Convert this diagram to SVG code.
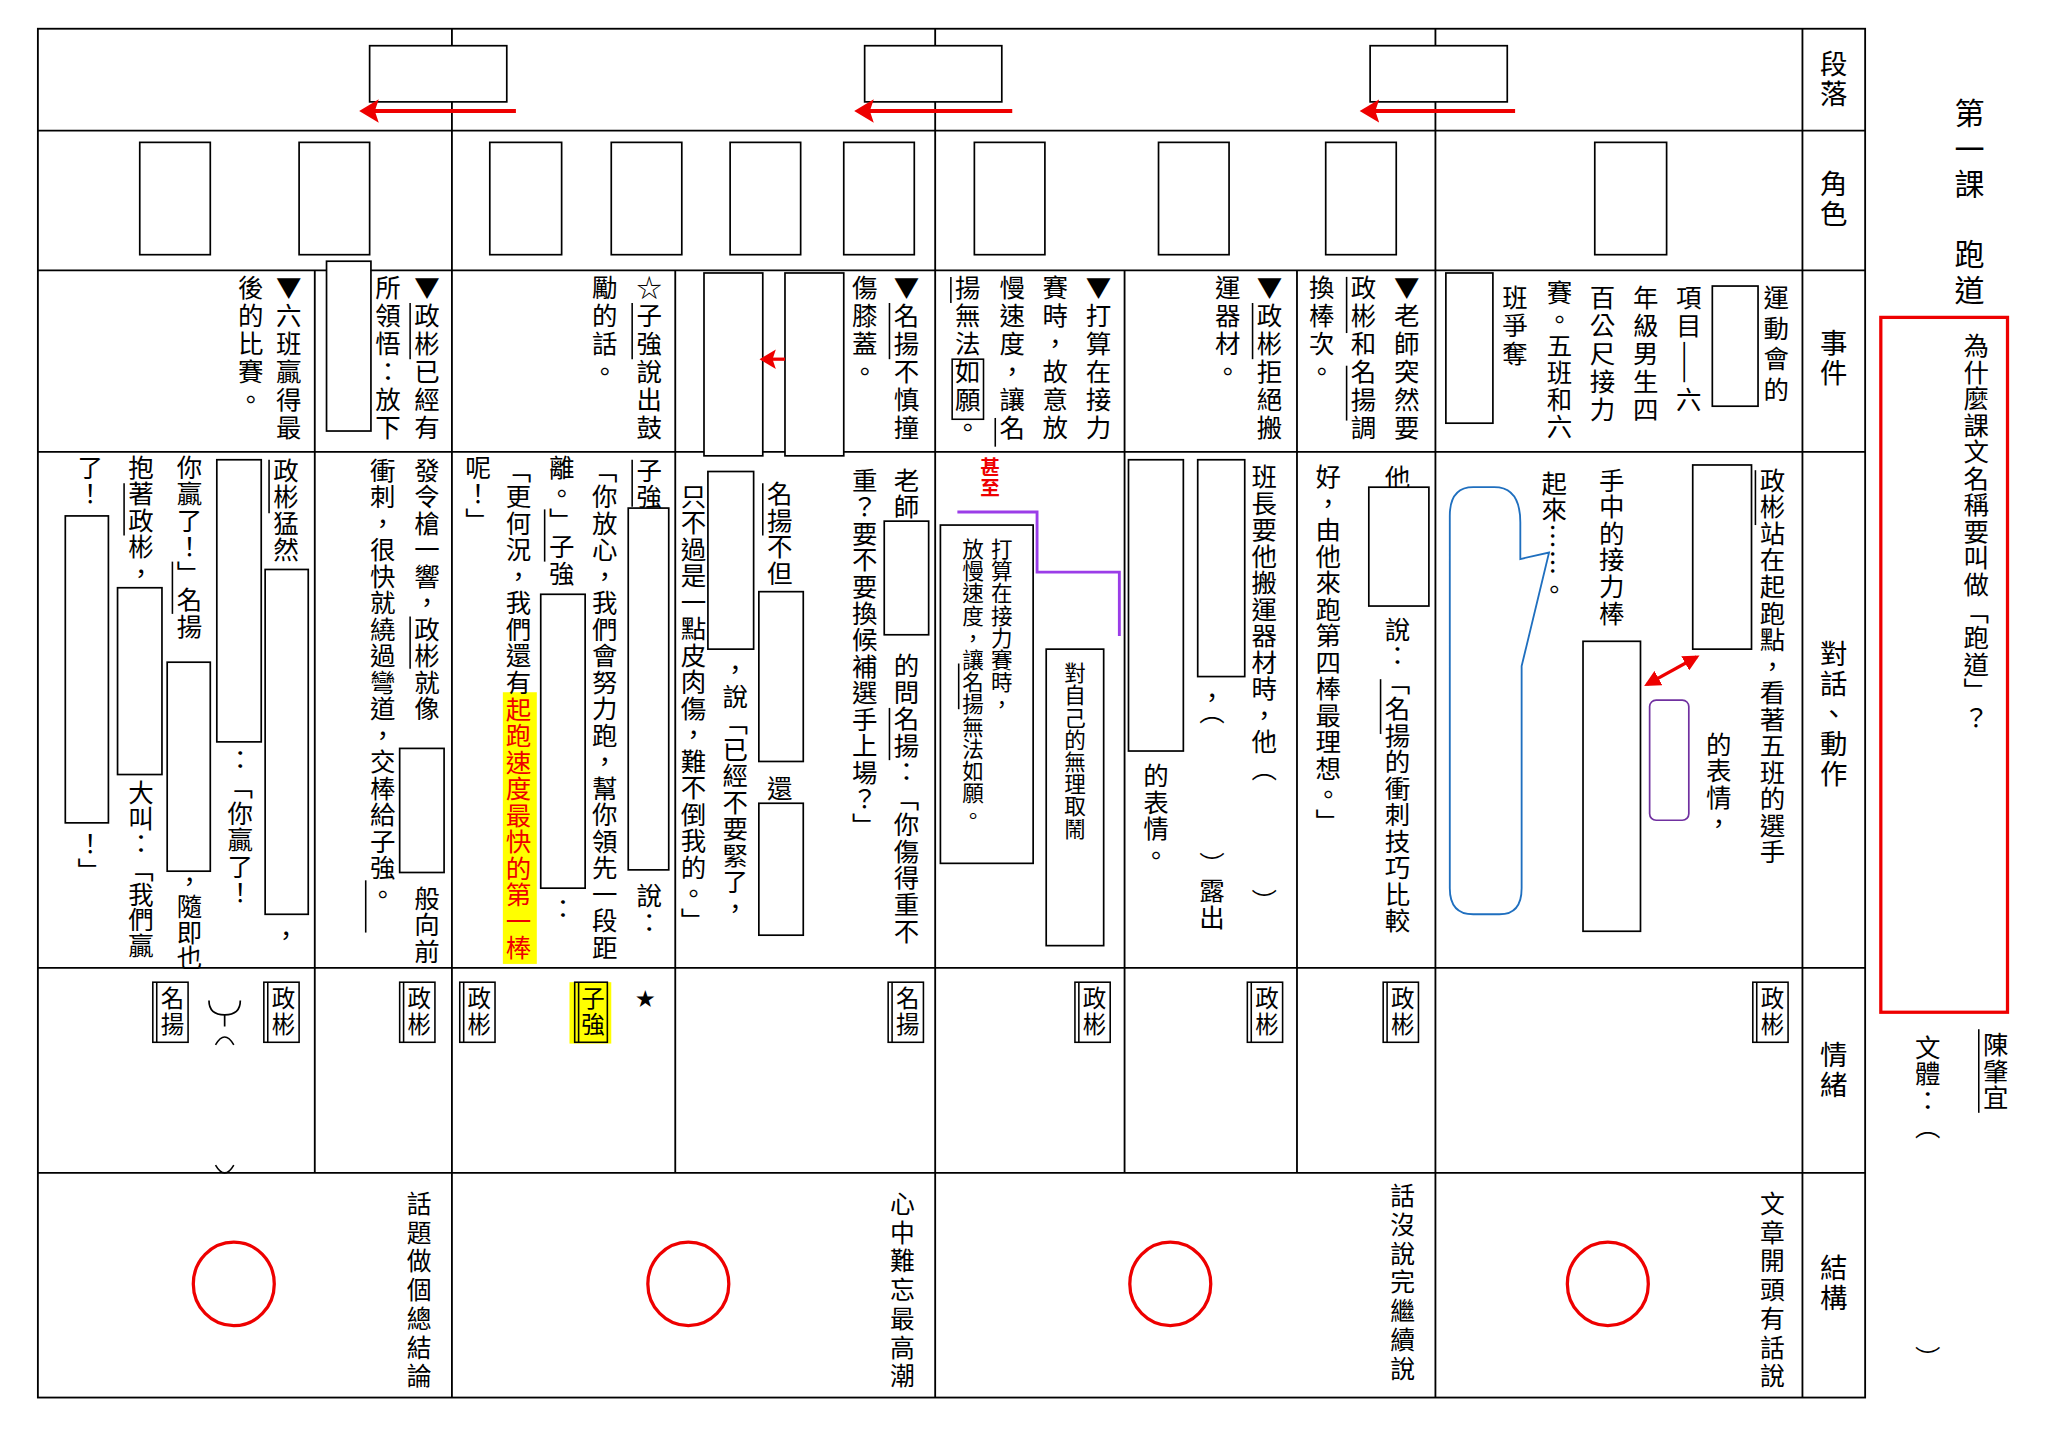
<svg xmlns="http://www.w3.org/2000/svg" width="2048" height="1448" viewBox="0 0 2048 1448">
<style>
.ln{stroke:#000;stroke-width:1.4;fill:none}
.bx{stroke:#000;stroke-width:1.3;fill:#fff}
.t{font-family:"Noto Sans CJK TC","Noto Sans CJK SC",sans-serif;font-size:19.5px;writing-mode:vertical-rl;fill:#000;letter-spacing:0.8px}
.s{font-size:16.5px;letter-spacing:0.5px}
.lab{font-family:"Noto Sans CJK TC",sans-serif;font-size:21px;writing-mode:vertical-rl;letter-spacing:2px}
.nm{stroke:#000;stroke-width:1.2}
.red{stroke:#e00;stroke-width:3;fill:none}
.nb{stroke:#000;stroke-width:1.2;fill:#fff}
.n{font-size:18px;letter-spacing:2px}
</style>
<defs>
<marker id="ah" markerWidth="6" markerHeight="6" refX="4" refY="3" orient="auto" markerUnits="strokeWidth"><path d="M5,3 L0,0 L1,3 L0,6 Z" fill="#e00"/></marker>
<marker id="ah2" markerWidth="5" markerHeight="5" refX="4" refY="2.5" orient="auto-start-reverse" markerUnits="strokeWidth"><path d="M0,0 L5,2.5 L0,5 Z" fill="#e00"/></marker>
</defs>
<rect width="2048" height="1448" fill="#fff"/>
<g transform="scale(1.30612)">
<g id="grid">
<rect class="ln" x="29" y="22" width="1399" height="1048"/>
<path class="ln" d="M29,100H1428M29,207H1428M29,346H1428M29,741H1428M29,898H1428M1380,22V1070M346,22V1070M716,22V1070M1099,22V1070M241,207V898M517,207V898M861,207V898M993,207V898"/>
</g>
<g id="labels">
<text class="lab" x="1404" y="38">段落</text>
<text class="lab" x="1404" y="130">角色</text>
<text class="lab" x="1404" y="252">事件</text>
<text class="lab" x="1404" y="490">對話、動作</text>
<text class="lab" x="1404" y="797">情緒</text>
<text class="lab" x="1404" y="960">結構</text>
</g>
<g id="title">
<text class="lab" x="1508" y="75" style="font-size:23px;letter-spacing:4px">第一課　跑道</text>
<rect x="1440" y="243" width="97" height="532" fill="none" stroke="#e00" stroke-width="2.5"/>
<text class="t" x="1513" y="255">為什麼課文名稱要叫做「跑道」？</text>
<text class="t" x="1528" y="790">陳肇宜</text>
<line class="nm" x1="1515" y1="788" x2="1515" y2="852"/>
<text class="t" x="1476" y="792">文體：（</text>
<text class="t" x="1476" y="1030">）</text>
</g>
<g id="paragraph-row">
<rect class="bx" x="283" y="35" width="105" height="43"/>
<rect class="bx" x="662" y="35" width="105" height="43"/>
<rect class="bx" x="1049" y="35" width="105" height="43"/>
<line class="red" x1="395" y1="85" x2="278" y2="85" marker-end="url(#ah)"/>
<line class="red" x1="775" y1="85" x2="657" y2="85" marker-end="url(#ah)"/>
<line class="red" x1="1160" y1="85" x2="1044" y2="85" marker-end="url(#ah)"/>
</g>
<g id="role-row">
<rect class="bx" x="107" y="109" width="54" height="86"/>
<rect class="bx" x="229" y="109" width="54" height="86"/>
<rect class="bx" x="375" y="109" width="55" height="86"/>
<rect class="bx" x="468" y="109" width="54" height="86"/>
<rect class="bx" x="559" y="109" width="54" height="86"/>
<rect class="bx" x="646" y="109" width="54" height="86"/>
<rect class="bx" x="746" y="109" width="54" height="86"/>
<rect class="bx" x="887" y="109" width="54" height="86"/>
<rect class="bx" x="1015" y="109" width="54" height="86"/>
<rect class="bx" x="1221" y="109" width="55" height="86"/>
</g>
<g id="event-row">
<text class="t" x="1360" y="218" style="letter-spacing:4px">運動會的</text>
<rect class="bx" x="1311" y="219" width="35" height="92"/>
<text class="t" x="1293" y="218" style="letter-spacing:2px">項目——六</text>
<text class="t" x="1260" y="218" style="letter-spacing:2px">年級男生四</text>
<text class="t" x="1227" y="218" style="letter-spacing:2px">百公尺接力</text>
<text class="t" x="1194" y="214" style="letter-spacing:1px">賽。五班和六</text>
<text class="t" x="1160" y="218" style="letter-spacing:2px">班爭奪</text>
<rect class="bx" x="1107" y="209" width="36" height="115"/>
<text class="t" x="1077" y="210" style="letter-spacing:2px">▼老師突然要</text>
<text class="t" x="1044" y="210" style="letter-spacing:2px">政彬和名揚調</text>
<line class="nm" x1="1031" y1="212" x2="1031" y2="255"/><line class="nm" x1="1031" y1="280" x2="1031" y2="322"/>
<text class="t" x="1012" y="210" style="letter-spacing:2px">換棒次。</text>
<text class="t" x="972" y="210" style="letter-spacing:2px">▼政彬拒絕搬</text>
<line class="nm" x1="959" y1="232" x2="959" y2="275"/>
<text class="t" x="940" y="210" style="letter-spacing:2px">運器材。</text>
<text class="t" x="841" y="210" style="letter-spacing:2px">▼打算在接力</text>
<text class="t" x="808" y="210" style="letter-spacing:2px">賽時，故意放</text>
<text class="t" x="775" y="210" style="letter-spacing:2px">慢速度，讓名</text>
<line class="nm" x1="762" y1="320" x2="762" y2="342"/>
<text class="t" x="741" y="210" style="letter-spacing:2px">揚無法如願。</text>
<rect x="729" y="275" width="24" height="46" fill="none" stroke="#000" stroke-width="1.2"/>
<line class="nm" x1="728" y1="212" x2="728" y2="232"/>
<text class="t" x="694" y="210" style="letter-spacing:2px">▼名揚不慎撞</text>
<line class="nm" x1="681" y1="232" x2="681" y2="275"/>
<text class="t" x="662" y="210" style="letter-spacing:2px">傷膝蓋。</text>
<rect class="bx" x="601" y="209" width="45" height="140"/>
<rect class="bx" x="539" y="209" width="45" height="140"/>
<line x1="601" y1="275" x2="584" y2="275" stroke="#e00" stroke-width="2.5" marker-end="url(#ah)"/>
<text class="t" x="497" y="210" style="letter-spacing:2px">☆子強說出鼓</text>
<line class="nm" x1="484" y1="232" x2="484" y2="275"/>
<text class="t" x="463" y="210" style="letter-spacing:2px">勵的話。</text>
<text class="t" x="327" y="210" style="letter-spacing:2px">▼政彬已經有</text>
<line class="nm" x1="314" y1="232" x2="314" y2="275"/>
<text class="t" x="297" y="210" style="letter-spacing:2px">所領悟：放下</text>
<rect class="bx" x="250" y="200" width="34" height="130"/>
<text class="t" x="221" y="210" style="letter-spacing:2px">▼六班贏得最</text>
<text class="t" x="192" y="210" style="letter-spacing:2px">後的比賽。</text>
</g>
<g id="dialog-col1">
<text class="t" x="1357" y="358">政彬站在起跑點，看著五班的選手</text>
<line class="nm" x1="1344" y1="360" x2="1344" y2="402"/>
<rect class="bx" x="1296" y="356" width="45" height="141"/>
<text class="t" x="1316" y="560">的表情，</text>
<rect x="1263" y="536" width="30" height="92" rx="5" fill="none" stroke="#7030a0" stroke-width="1.3"/>
<line x1="1261" y1="524" x2="1299" y2="503" stroke="#e00" stroke-width="2.5" marker-start="url(#ah2)" marker-end="url(#ah2)"/>
<text class="t" x="1234" y="358">手中的接力棒</text>
<rect class="bx" x="1212" y="491" width="44" height="222"/>
<text class="t" x="1190" y="360">起來……。</text>
<path d="M1128,373 H1144 Q1164,373 1164,400 V428 L1186,423 L1165,510 V680 Q1165,700 1148,700 H1128 Q1110,700 1110,680 V395 Q1110,373 1128,373 Z" fill="none" stroke="#1f6fbf" stroke-width="1.4"/>
</g>
<g id="dialog-col2">
<text class="t" x="1070" y="356">他</text>
<rect class="bx" x="1048" y="373" width="46" height="91"/>
<text class="t" x="1070" y="472">說：「名揚的衝刺技巧比較</text>
<line class="nm" x1="1057" y1="520" x2="1057" y2="562"/>
<text class="t" x="1017" y="355">好，由他來跑第四棒最理想。」</text>
</g>
<g id="dialog-col3">
<text class="t" x="968" y="355">班長要他搬運器材時，他（</text>
<text class="t" x="968" y="680">）</text>
<rect class="bx" x="917" y="352" width="36" height="166"/>
<text class="t" x="928" y="524">，（</text>
<text class="t" x="928" y="652">）露出</text>
<rect class="bx" x="864" y="352" width="42" height="223"/>
<text class="t" x="885" y="584">的表情。</text>
</g>
<g id="dialog-col4">
<text class="t s" x="758" y="350" style="fill:#e00;font-weight:bold;font-size:15px">甚至</text>
<path d="M733,392 H794 V438 H857 V487" fill="none" stroke="#9b3de8" stroke-width="2.2"/>
<rect class="bx" x="720" y="402" width="71" height="259"/>
<text class="t s" x="767" y="412">打算在接力賽時，</text>
<text class="t s" x="745" y="412">放慢速度，讓名揚無法如願。</text>
<line class="nm" x1="734" y1="508" x2="734" y2="543"/>
<rect class="bx" x="801" y="497" width="44" height="227"/>
<text class="t s" x="823" y="507">對自己的無理取鬧</text>
</g>
<g id="dialog-col5">
<text class="t" x="694" y="358">老師</text>
<rect class="bx" x="677" y="399" width="34" height="87"/>
<text class="t" x="694" y="500">的問名揚：「你傷得重不</text>
<line class="nm" x1="681" y1="542" x2="681" y2="582"/>
<text class="t" x="662" y="358">重？要不要換候補選手上場？」</text>
<text class="t" x="597" y="368">名揚不但</text>
<line class="nm" x1="584" y1="370" x2="584" y2="410"/>
<rect class="bx" x="542" y="361" width="35" height="136"/>
<rect class="bx" x="581" y="453" width="34" height="130"/>
<text class="t" x="563" y="503">，說「已經不要緊了，</text>
<text class="t" x="597" y="594">還</text>
<rect class="bx" x="581" y="615" width="34" height="101"/>
<text class="t" x="531" y="370">只不過是一點皮肉傷，難不倒我的。」</text>
</g>
<g id="dialog-col6">
<text class="t" x="497" y="350">子強</text>
<line class="nm" x1="484" y1="352" x2="484" y2="388"/>
<rect class="bx" x="481" y="389" width="31" height="277"/>
<text class="t" x="497" y="676">說：</text>
<text class="t" x="463" y="350">「你放心，我們會努力跑，幫你領先一段距</text>
<text class="t" x="430" y="348">離。」子強</text>
<line class="nm" x1="417" y1="390" x2="417" y2="430"/>
<rect class="bx" x="414" y="455" width="34" height="225"/>
<text class="t" x="431" y="686">：</text>
<rect x="385" y="530" width="26" height="208" fill="#ffff00"/>
<text class="t" x="397" y="350">「更何況，我們還有<tspan fill="#e00">起跑速度最快的第一棒</tspan></text>
<text class="t" x="366" y="348">呢！」</text>
</g>
<g id="dialog-col7">
<text class="t" x="327" y="350">發令槍一響，政彬就像</text>
<line class="nm" x1="314" y1="472" x2="314" y2="512"/>
<rect class="bx" x="306" y="573" width="34" height="95"/>
<text class="t" x="327" y="678">般向前</text>
<text class="t" x="293" y="350">衝刺，很快就繞過彎道，交棒給子強。</text>
<line class="nm" x1="280" y1="674" x2="280" y2="714"/>
</g>
<g id="dialog-col8">
<text class="t" x="219" y="350">政彬猛然</text>
<line class="nm" x1="206" y1="352" x2="206" y2="393"/>
<rect class="bx" x="203" y="436" width="33" height="264"/>
<text class="t" x="219" y="706">，</text>
<rect class="bx" x="166" y="352" width="34" height="216"/>
<text class="t" x="184" y="572">：「你贏了！</text>
<text class="t" x="145" y="348">你贏了！」名揚</text>
<line class="nm" x1="132" y1="430" x2="132" y2="470"/>
<rect class="bx" x="128" y="507" width="33" height="160"/>
<text class="t" x="145" y="665" style="letter-spacing:0">，隨即也</text>
<text class="t" x="108" y="348">抱著政彬，</text>
<line class="nm" x1="95" y1="370" x2="95" y2="410"/>
<rect class="bx" x="90" y="450" width="34" height="143"/>
<text class="t" x="108" y="597" style="letter-spacing:0">大叫：「我們贏</text>
<text class="t" x="69" y="348">了！</text>
<rect class="bx" x="50" y="395" width="33" height="235"/>
<text class="t" x="69" y="636">！」</text>
</g>
<g id="emotion-row">
<rect x="436" y="752" width="32" height="47" fill="#ffff00"/>
<rect class="nb" x="1342" y="752" width="27" height="46"/><line class="nm" x1="1345" y1="752" x2="1345" y2="798"/><text class="t n" x="1357" y="755">政彬</text>
<rect class="nb" x="1059" y="752" width="27" height="46"/><line class="nm" x1="1062" y1="752" x2="1062" y2="798"/><text class="t n" x="1074" y="755">政彬</text>
<rect class="nb" x="955" y="752" width="27" height="46"/><line class="nm" x1="958" y1="752" x2="958" y2="798"/><text class="t n" x="970" y="755">政彬</text>
<rect class="nb" x="823" y="752" width="27" height="46"/><line class="nm" x1="826" y1="752" x2="826" y2="798"/><text class="t n" x="838" y="755">政彬</text>
<rect class="nb" x="680" y="752" width="27" height="46"/><line class="nm" x1="683" y1="752" x2="683" y2="798"/><text class="t n" x="695" y="755">名揚</text>
<text x="486" y="771" font-size="18" font-family="DejaVu Sans,sans-serif">★</text>
<rect x="440" y="752" width="25" height="46" fill="none" stroke="#000" stroke-width="1.2"/><line class="nm" x1="443" y1="752" x2="443" y2="798"/><text class="t n" x="454" y="755">子強</text>
<rect class="nb" x="352" y="752" width="27" height="46"/><line class="nm" x1="355" y1="752" x2="355" y2="798"/><text class="t n" x="367" y="755">政彬</text>
<rect class="nb" x="306" y="752" width="27" height="46"/><line class="nm" x1="309" y1="752" x2="309" y2="798"/><text class="t n" x="321" y="755">政彬</text>
<rect class="nb" x="202" y="752" width="27" height="46"/><line class="nm" x1="205" y1="752" x2="205" y2="798"/><text class="t n" x="217" y="755">政彬</text>
<rect class="nb" x="117" y="752" width="27" height="46"/><line class="nm" x1="120" y1="752" x2="120" y2="798"/><text class="t n" x="132" y="755">名揚</text>
<path d="M160,766 Q160,777 172,777 Q184,777 184,766 M172,777 V786" fill="none" stroke="#000" stroke-width="1.3"/>
<path d="M165,800 Q172,788 179,800" fill="none" stroke="#000" stroke-width="1.2"/>
<path d="M165,892 Q172,904 179,892" fill="none" stroke="#000" stroke-width="1.2"/>
</g>
<g id="structure-row">
<ellipse cx="179" cy="983" rx="31" ry="32" fill="none" stroke="#e00" stroke-width="2.5"/>
<ellipse cx="527" cy="983" rx="31" ry="32" fill="none" stroke="#e00" stroke-width="2.5"/>
<ellipse cx="896" cy="983" rx="31" ry="32" fill="none" stroke="#e00" stroke-width="2.5"/>
<ellipse cx="1231" cy="983" rx="31" ry="32" fill="none" stroke="#e00" stroke-width="2.5"/>
<text class="t" x="321" y="912" style="font-size:19px;letter-spacing:3px">話題做個總結論</text>
<text class="t" x="691" y="912" style="font-size:19px;letter-spacing:3px">心中難忘最高潮</text>
<text class="t" x="1074" y="906" style="font-size:19px;letter-spacing:3px">話沒說完繼續說</text>
<text class="t" x="1357" y="912" style="font-size:19px;letter-spacing:3px">文章開頭有話說</text>
</g>
</g>
</svg>
